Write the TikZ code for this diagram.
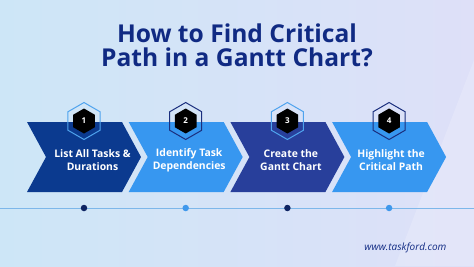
\documentclass[tikz,border=0pt]{standalone}
\usepackage{fontspec}
\setmainfont{Open Sans}
\usetikzlibrary{shapes.geometric,shapes.symbols,positioning}

\definecolor{bgleft}{HTML}{CDE6F7}
\definecolor{bgright}{HTML}{DEE0F8}
\definecolor{titlenavy}{HTML}{102A83}
\definecolor{stepnavy}{HTML}{0B3A8F}
\definecolor{stepsky}{HTML}{3797F0}
\definecolor{stepindigo}{HTML}{283F9B}
\definecolor{hexsky}{HTML}{4FA3EE}
\definecolor{hexnavy}{HTML}{1B2F7E}
\definecolor{tlineblue}{HTML}{7DB7EA}
\definecolor{dotnavy}{HTML}{0E2463}
\definecolor{dotsky}{HTML}{3F98EC}

\begin{document}
\begin{tikzpicture}[x=1pt, y=-1pt,
  chev/.style={signal, signal from=west, signal to=east, signal pointer angle=123,
               minimum width=114pt, minimum height=70pt, inner sep=0pt, outer sep=0pt},
  lbl/.style={text=white, align=center, font=\bfseries\fontsize{10.4}{13.3}\selectfont},
  badge/.style={regular polygon, regular polygon sides=6, shape border rotate=30,
                minimum size=37pt, inner sep=0pt, line width=1pt},
  num/.style={regular polygon, regular polygon sides=6, shape border rotate=30,
              minimum size=25pt, inner sep=0pt, fill=black, text=white,
              font=\bfseries\fontsize{8}{8}\selectfont},
  dot/.style={circle, minimum size=6.5pt, inner sep=0pt},
  tline/.style={draw=tlineblue, line width=1pt}
]
\useasboundingbox (0,0) rectangle (474,266);
\shade[left color=bgleft, right color=bgright] (0,0) rectangle (474,266);
\fill[white, opacity=.18] (474,60) -- (474,266) -- (395,266) -- cycle;

% Title
\node[text=titlenavy, align=center, font=\bfseries\fontsize{24.6}{24.6}\selectfont] (title)
  at (237,45.5) {How to Find Critical\\Path in a Gantt Chart?};

% Timeline
\coordinate (tlw) at (0,208);
\coordinate (tle) at (474,208);
\draw[tline] (tlw) -- (tle);

% Steps
\foreach \i/\txt/\fcol/\hcol/\dcol/\dx in {
  1/{List All Tasks \&\\Durations}/stepnavy/hexsky/dotnavy/8.5,
  2/{Identify Task\\Dependencies}/stepsky/hexnavy/dotsky/3.5,
  3/{Create the\\Gantt Chart}/stepindigo/hexsky/dotnavy/3.5,
  4/{Highlight the\\Critical Path}/stepsky/hexnavy/dotsky/2}{
  \node[chev, fill=\fcol] (s\i) at ({84+101.7*(\i-1)},157) {};
  \node[lbl] (t\i) at ([xshift=\dx pt, yshift=-3pt]s\i.center) {\txt};
  \node[badge, draw=\hcol] (h\i) at ([yshift=1pt]s\i.north) {};
  \node[num] (n\i) at (h\i.center) {\i};
  \node[dot, fill=\dcol] (d\i) at (s\i.center |- tlw) {};
}

% Footer
\node[anchor=base east, text=titlenavy, font=\itshape\fontsize{10}{12}\selectfont] (url)
  at (450,250.5) {www.taskford.com};

\end{tikzpicture}
\end{document}
